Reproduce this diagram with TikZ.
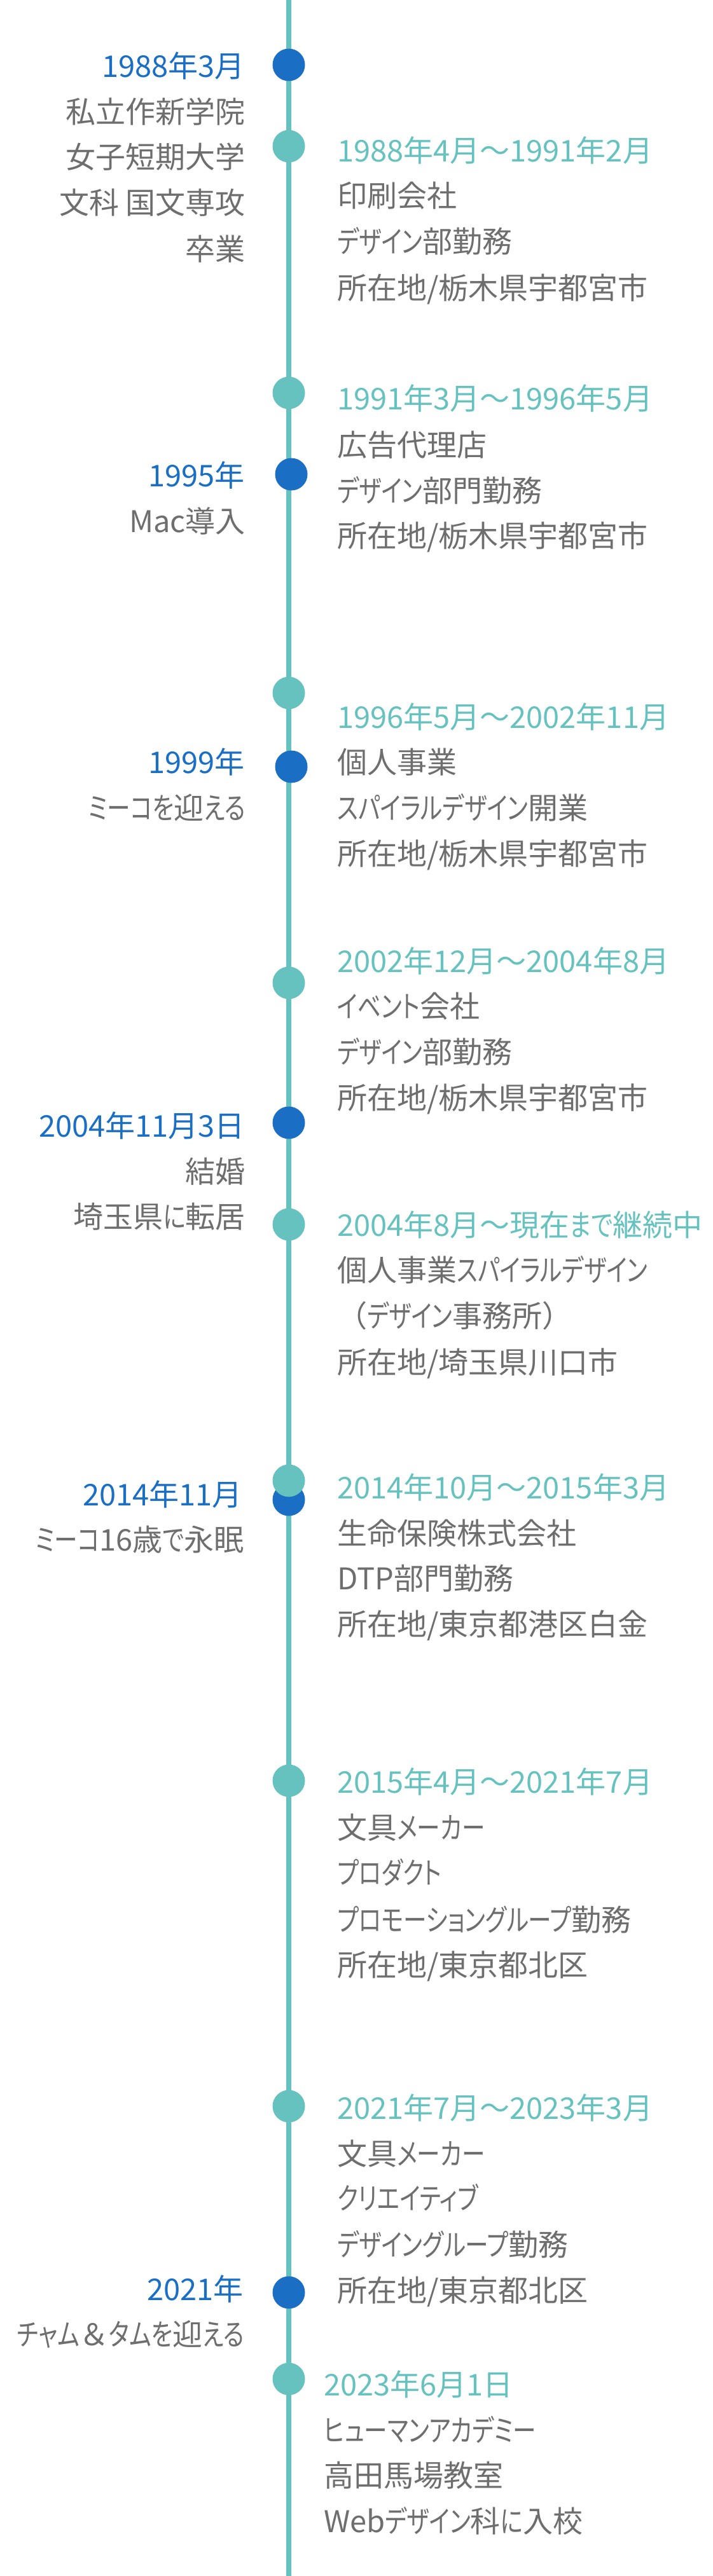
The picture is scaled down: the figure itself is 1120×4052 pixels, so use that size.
\documentclass[tikz,border=0pt]{standalone}
\usepackage{fontspec}
\usepackage{graphicx}
\setmainfont{Noto Sans CJK JP}[RawFeature=+palt]
\newfontfamily\jpfix{Noto Sans CJK JP}
\definecolor{ctteal}{HTML}{66C2BF}
\definecolor{ctblue}{HTML}{1A6EC4}
\definecolor{ctgray}{HTML}{6E6E6E}
\newcommand{\jpsize}{\fontsize{47}{56}\selectfont}
\newcommand{\wave}{{\jpfix ～}}
\newcommand{\kn}[1]{\scalebox{0.78}[1]{#1}}
\tikzset{
  ldate/.style={anchor=base east, inner sep=0pt, font=\jpsize, text=ctblue},
  ltext/.style={anchor=base east, inner sep=0pt, font=\jpsize, text=ctgray},
  rdate/.style={anchor=base west, inner sep=0pt, font=\jpsize, text=ctteal},
  rtext/.style={anchor=base west, inner sep=0pt, font=\jpsize, text=ctgray},
  tdot/.style={circle, fill=ctteal, minimum size=51pt, inner sep=0pt},
  bdot/.style={circle, fill=ctblue, minimum size=51pt, inner sep=0pt},
  tline/.style={draw=ctteal, line width=8pt}
}
\begin{document}
\begin{tikzpicture}[x=1pt,y=-1pt]
\useasboundingbox (0,0) rectangle (1120,4052);
\fill[white] (0,0) rectangle (1120,4052);
% timeline
\coordinate (top) at (454,0);
\coordinate (bot) at (454,4052);
\draw[tline] (top) -- (bot);
% blue dots
\node[bdot] (b1) at (454,102) {};
\node[bdot] (b2) at (458,746) {};
\node[bdot] (b3) at (458,1206) {};
\node[bdot] (b4) at (454,1766) {};
\node[bdot] (b5) at (454,2359) {};
\node[bdot] (b6) at (454,3606) {};
% teal dots
\node[tdot] (t1) at (454,230) {};
\node[tdot] (t2) at (454,618) {};
\node[tdot] (t3) at (454,1090) {};
\node[tdot] (t4) at (454,1546) {};
\node[tdot] (t5) at (454,1926) {};
\node[tdot] (t6) at (454,2329) {};
\node[tdot] (t7) at (454,2801) {};
\node[tdot] (t8) at (454,3313) {};
\node[tdot] (t9) at (454,3742) {};
% left entries
\node[ldate] (l1d) at (385,122) {1988年3月};
\node[ltext] (l1a) at (386,193) {私立作新学院};
\node[ltext] (l1b) at (386,264) {女子短期大学};
\node[ltext] (l1c) at (386,336) {文科 国文専攻};
\node[ltext] (l1e) at (386,409) {卒業};
\node[ldate] (l2d) at (385,765) {1995年};
\node[ltext] (l2a) at (386,837) {Mac導入};
\node[ldate] (l3d) at (385,1216) {1999年};
\node[ltext] (l3a) at (386,1288) {\kn{ミーコを}迎\kn{える}};
\node[ldate] (l4d) at (385,1788) {2004年11月3日};
\node[ltext] (l4a) at (386,1860) {結婚};
\node[ltext] (l4b) at (386,1931) {埼玉県\kn{に}転居};
\node[ldate] (l5d) at (381,2368) {2014年11月};
\node[ltext] (l5a) at (384,2439) {\kn{ミーコ}16歳\kn{で}永眠};
\node[ldate] (l6d) at (383,3618) {2021年};
\node[ltext] (l6a) at (384,3689) {\kn{チャム}{\jpfix ＆}\kn{タムを}迎\kn{える}};
% right entries
\node[rdate] (r1d) at (530,254) {1988年4月\wave 1991年2月};
\node[rtext] (r1a) at (530,325) {印刷会社};
\node[rtext] (r1b) at (530,397) {\kn{デザイン}部勤務};
\node[rtext] (r1c) at (530,470) {所在地/栃木県宇都宮市};
\node[rdate] (r2d) at (530,644) {1991年3月\wave 1996年5月};
\node[rtext] (r2a) at (530,717) {広告代理店};
\node[rtext] (r2b) at (530,789) {\kn{デザイン}部門勤務};
\node[rtext] (r2c) at (530,860) {所在地/栃木県宇都宮市};
\node[rdate] (r3d) at (530,1145) {1996年5月\wave 2002年11月};
\node[rtext] (r3a) at (530,1216) {個人事業};
\node[rtext] (r3b) at (530,1288) {\kn{スパイラルデザイン}開業};
\node[rtext] (r3c) at (530,1360) {所在地/栃木県宇都宮市};
\node[rdate] (r4d) at (530,1529) {2002年12月\wave 2004年8月};
\node[rtext] (r4a) at (530,1600) {\kn{イベント}会社};
\node[rtext] (r4b) at (530,1672) {\kn{デザイン}部勤務};
\node[rtext] (r4c) at (530,1744) {所在地/栃木県宇都宮市};
\node[rdate] (r5d) at (530,1944) {2004年8月\wave 現在\kn{まで}継続中};
\node[rtext] (r5a) at (530,2015) {個人事業\kn{スパイラルデザイン}};
\node[rtext] (r5b) at (530,2087) {{\jpfix （}\kn{デザイン}事務所{\jpfix ）}};
\node[rtext] (r5c) at (530,2160) {所在地/埼玉県川口市};
\node[rdate] (r6d) at (530,2357) {2014年10月\wave 2015年3月};
\node[rtext] (r6a) at (530,2429) {生命保険株式会社};
\node[rtext] (r6b) at (530,2500) {DTP部門勤務};
\node[rtext] (r6c) at (530,2572) {所在地/東京都港区白金};
\node[rdate] (r7d) at (530,2820) {2015年4月\wave 2021年7月};
\node[rtext] (r7a) at (530,2892) {文具\kn{メーカー}};
\node[rtext] (r7b) at (530,2963) {\kn{プロダクト}};
\node[rtext] (r7c) at (530,3037) {\kn{プロモーショングループ}勤務};
\node[rtext] (r7e) at (530,3108) {所在地/東京都北区};
\node[rdate] (r8d) at (530,3333) {2021年7月\wave 2023年3月};
\node[rtext] (r8a) at (530,3405) {文具\kn{メーカー}};
\node[rtext] (r8b) at (530,3475) {\kn{クリエイティブ}};
\node[rtext] (r8c) at (530,3548) {\kn{デザイングループ}勤務};
\node[rtext] (r8e) at (530,3620) {所在地/東京都北区};
\node[rdate] (r9d) at (509,3768) {2023年6月1日};
\node[rtext] (r9a) at (509,3840) {\kn{ヒューマンアカデミー}};
\node[rtext] (r9b) at (509,3911) {高田馬場教室};
\node[rtext] (r9c) at (509,3983) {Web\kn{デザイン}科\kn{に}入校};
\end{tikzpicture}
\end{document}
